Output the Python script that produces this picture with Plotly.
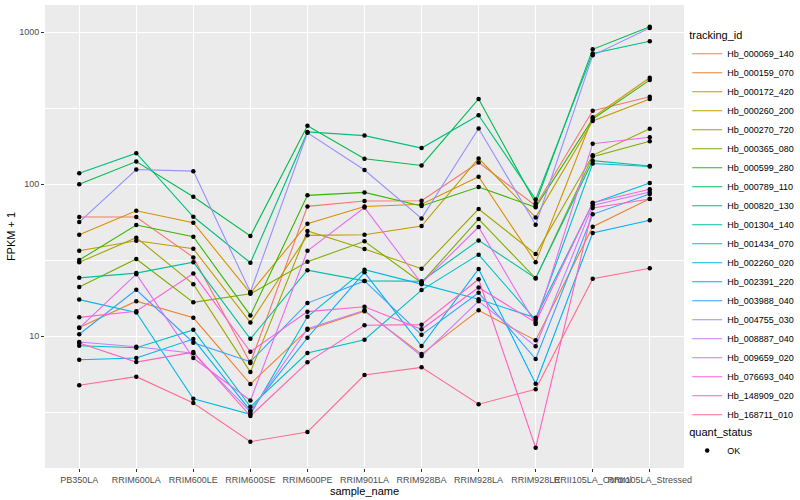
import plotly.graph_objects as go

samples = ["PB350LA", "RRIM600LA", "RRIM600LE", "RRIM600SE", "RRIM600PE", "RRIM901LA",
           "RRIM928BA", "RRIM928LA", "RRIM928LE", "RRII105LA_Control", "RRII105LA_Stressed"]

tracking_ids = ["Hb_000069_140", "Hb_000159_070", "Hb_000172_420", "Hb_000260_200", "Hb_000270_720",
                "Hb_000365_080", "Hb_000599_280", "Hb_000789_110", "Hb_000820_130", "Hb_001304_140",
                "Hb_001434_070", "Hb_002260_020", "Hb_002391_220", "Hb_003988_040", "Hb_004755_030",
                "Hb_008887_040", "Hb_009659_020", "Hb_076693_040", "Hb_148909_020", "Hb_168711_010"]

colors = ["#F8766D", "#EA8331", "#D89000", "#C09B00", "#A3A500", "#7CAE00", "#39B600", "#00BB4E",
          "#00BF7D", "#00C1A3", "#00BFC4", "#00BAE0", "#00B0F6", "#35A2FF", "#9590FF", "#C77CFF",
          "#E76BF3", "#FA62DB", "#FF62BC", "#FF6C91"]

Hb_000069_140 = [60.8, 60.8, 33.0, 6.65, 71.5, 77.5, 77.9, 139, 72.2, 305, 377]
Hb_000159_070 = [11.4, 17.0, 13.2, 4.84, 11.0, 14.6, 7.62, 14.8, 9.38, 52.5, 80.3]
Hb_000172_420 = [46.5, 66.9, 55.8, 19.2, 55.0, 71.3, 73.8, 112, 30.7, 276, 502]
Hb_000260_200 = [36.5, 42.5, 37.6, 12.3, 46.1, 46.5, 53.1, 148, 60.5, 261, 364]
Hb_000270_720 = [30.6, 44.5, 22.0, 5.80, 49.2, 37.5, 27.8, 68.7, 34.7, 155, 232]
Hb_000365_080 = [21.1, 32.2, 16.7, 19.0, 30.9, 42.1, 22.5, 59.0, 24.0, 152, 192]
Hb_000599_280 = [31.7, 53.9, 45.1, 13.7, 84.5, 88.4, 71.9, 95.9, 70.5, 269, 485]
Hb_000789_110 = [99.9, 141, 82.8, 45.6, 243, 147, 133, 364, 74.9, 773, 1089]
Hb_000820_130 = [118, 160, 61.1, 30.4, 221, 209, 173, 285, 79.5, 727, 873]
Hb_001304_140 = [24.2, 26.0, 30.7, 9.60, 27.2, 23.1, 23.0, 42.7, 24.1, 143, 132]
Hb_001434_070 = [8.65, 8.39, 11.0, 3.43, 7.74, 9.47, 20.1, 34.4, 12.8, 137, 131]
Hb_002260_020 = [17.4, 14.3, 3.87, 3.06, 13.4, 27.4, 22.0, 17.5, 13.2, 74.9, 102]
Hb_002391_220 = [7.0, 7.18, 9.57, 3.24, 9.76, 26.3, 8.61, 27.7, 4.86, 47.7, 57.9]
Hb_003988_040 = [10.3, 20.2, 9.05, 6.79, 16.5, 23.1, 10.2, 19.3, 7.07, 63.4, 86.2]
Hb_004755_030 = [56.4, 125, 122, 19.5, 218, 124, 59.6, 233, 54.1, 706, 1067]
Hb_008887_040 = [9.15, 8.52, 7.71, 3.17, 11.2, 14.8, 7.40, 17.0, 8.57, 72.4, 88.9]
Hb_009659_020 = [11.3, 25.6, 7.18, 3.77, 36.5, 70.2, 22.3, 52.3, 12.0, 185, 204]
Hb_076693_040 = [13.3, 14.6, 25.8, 7.90, 14.5, 15.6, 11.1, 20.9, 12.3, 75.5, 92.6]
Hb_148909_020 = [9.0, 6.75, 7.85, 2.98, 6.72, 11.8, 11.9, 23.7, 1.84, 69.7, 80.0]
Hb_168711_010 = [4.75, 5.41, 3.63, 2.02, 2.34, 5.55, 6.23, 3.56, 4.47, 23.9, 28.0]

series = [Hb_000069_140, Hb_000159_070, Hb_000172_420, Hb_000260_200, Hb_000270_720,
          Hb_000365_080, Hb_000599_280, Hb_000789_110, Hb_000820_130, Hb_001304_140,
          Hb_001434_070, Hb_002260_020, Hb_002391_220, Hb_003988_040, Hb_004755_030,
          Hb_008887_040, Hb_009659_020, Hb_076693_040, Hb_148909_020, Hb_168711_010]

y_ticks = [10, 100, 1000]
y_minor = [10 ** 0.5, 10 ** 1.5, 10 ** 2.5]

FONT = "Liberation Sans, Arial, sans-serif"

fig = go.Figure()
for name, col, vals in zip(tracking_ids, colors, series):
    fig.add_trace(go.Scatter(x=samples, y=vals, mode="lines", name=name,
                             line=dict(color=col, width=1.1), legend="legend",
                             hoverinfo="skip"))

all_x = [s for vals in series for s in samples]
all_y = [v for vals in series for v in vals]
fig.add_trace(go.Scatter(x=all_x, y=all_y, mode="markers", name="OK",
                         marker=dict(color="black", size=4.5), legend="legend2",
                         hoverinfo="skip"))

fig.update_layout(
    width=800, height=500,
    margin=dict(l=45, r=116, t=5, b=32, autoexpand=False),
    paper_bgcolor="white", plot_bgcolor="#EBEBEB",
    font=dict(family=FONT, size=9, color="#000000"),
    showlegend=True,
    hovermode=False,
    legend=dict(title=dict(text="tracking_id", font=dict(size=11)),
                x=1.005, xanchor="left", y=0.957, yanchor="top",
                font=dict(size=9), bgcolor="rgba(0,0,0,0)", itemwidth=30,
                tracegroupgap=0),
    legend2=dict(title=dict(text="quant_status", font=dict(size=11)),
                 x=1.005, xanchor="left", y=0.10, yanchor="top",
                 font=dict(size=9), bgcolor="rgba(0,0,0,0)", itemwidth=30),
    xaxis=dict(type="category", categoryorder="array", categoryarray=samples,
               range=[-0.6, len(samples) - 0.4], showgrid=True, gridcolor="white",
               gridwidth=1.1, zeroline=False, ticks="outside", ticklen=3,
               tickcolor="#333333", tickangle=0, automargin=False,
               tickfont=dict(size=9, color="#4D4D4D"),
               title=dict(text="sample_name", font=dict(size=11), standoff=0),
               showline=False),
    yaxis=dict(type="log", range=[0.132, 3.18], tickmode="array", tickvals=y_ticks,
               ticktext=[str(t) for t in y_ticks], showgrid=True, gridcolor="white",
               gridwidth=1.1, zeroline=False, ticks="outside", ticklen=3,
               tickcolor="#333333", tickfont=dict(size=9, color="#4D4D4D"),
               automargin=False,
               title=dict(text="FPKM + 1", font=dict(size=11), standoff=1),
               minor=dict(tickmode="array", tickvals=y_minor, showgrid=True,
                          gridcolor="white", gridwidth=0.55, ticks=""),
               showline=False),
)

fig.write_html("out.html", config={"displayModeBar": False},
               post_script="document.body.style.margin='0px';")
